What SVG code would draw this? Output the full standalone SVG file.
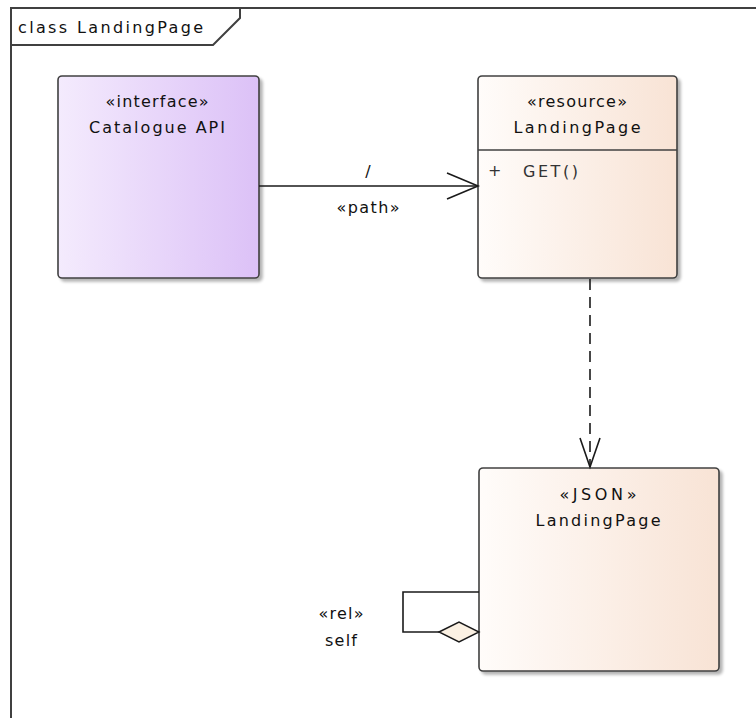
<svg xmlns="http://www.w3.org/2000/svg" width="756" height="718" viewBox="0 0 756 718">
<defs>
<linearGradient id="gPurple" x1="0" y1="0" x2="1" y2="0">
<stop offset="0" stop-color="#F4EBFD"/>
<stop offset="1" stop-color="#DCC1F7"/>
</linearGradient>
<linearGradient id="gPeach" x1="0" y1="0" x2="1" y2="0">
<stop offset="0" stop-color="#FFFCFA"/>
<stop offset="1" stop-color="#F8E3D5"/>
</linearGradient>
<filter id="sh" x="-10%" y="-10%" width="130%" height="130%">
<feGaussianBlur in="SourceAlpha" stdDeviation="1.5"/>
<feOffset dx="3" dy="3" result="b"/>
<feComponentTransfer><feFuncA type="linear" slope="0.3"/></feComponentTransfer>
<feMerge><feMergeNode/><feMergeNode in="SourceGraphic"/></feMerge>
</filter>
</defs>
<style>
text{font-family:"DejaVu Sans","Liberation Sans",sans-serif;font-size:16px;fill:#111}
.c{text-anchor:middle}
.box{stroke:#404040;stroke-width:1.6}
.ln{stroke:#1a1a1a;stroke-width:1.6;fill:none}
.frame{stroke:#404040;stroke-width:2;fill:none}
</style>
<rect width="756" height="718" fill="#ffffff"/>
<g id="frame">
<path class="frame" d="M11,760 V8 H800"/>
<path class="frame" d="M11,45 H213 L240,18 V8"/>
<text x="18" y="33" textLength="185" lengthAdjust="spacing">class LandingPage</text>
</g>
<g id="catalogue-api">
<rect class="box" x="58" y="76" width="201" height="202" rx="4" fill="url(#gPurple)" filter="url(#sh)"/>
<text class="c" x="157" y="107" textLength="103" lengthAdjust="spacing">«interface»</text>
<text class="c" x="157" y="133" textLength="136" lengthAdjust="spacing">Catalogue API</text>
</g>
<g id="resource-landingpage">
<rect class="box" x="478" y="76" width="199" height="202" rx="4" fill="url(#gPeach)" filter="url(#sh)"/>
<line class="box" x1="478" y1="150" x2="677" y2="150"/>
<text class="c" x="577" y="107" textLength="100" lengthAdjust="spacing">«resource»</text>
<text class="c" x="577" y="133" textLength="127" lengthAdjust="spacing">LandingPage</text>
<text x="488" y="176" style="fill:#333">+</text>
<text x="523" y="177" textLength="55" lengthAdjust="spacing" style="fill:#333">GET()</text>
</g>
<g id="json-landingpage">
<rect class="box" x="479" y="468" width="240" height="203" rx="4" fill="url(#gPeach)" filter="url(#sh)"/>
<text class="c" x="598" y="500" textLength="77" lengthAdjust="spacing">«JSON»</text>
<text class="c" x="598" y="526" textLength="125" lengthAdjust="spacing">LandingPage</text>
</g>
<g id="connectors">
<line class="ln" x1="259" y1="186" x2="478" y2="186"/>
<path class="ln" d="M447,173 L478,186 L447,199"/>
<text class="c" x="368" y="177">/</text>
<text class="c" x="368" y="213" textLength="63" lengthAdjust="spacing">«path»</text>
<line class="ln" x1="590" y1="279" x2="590" y2="467" stroke-dasharray="11,7"/>
<path class="ln" d="M580,438 L590,467 L600,438"/>
<path class="ln" d="M479,592 H403 V632 H439"/>
<path d="M439,632 L459,622 L479,632 L459,642 Z" fill="#FBF1E3" stroke="#1a1a1a" stroke-width="1.4"/>
<text class="c" x="341" y="619" textLength="45" lengthAdjust="spacing">«rel»</text>
<text class="c" x="341" y="646" textLength="32" lengthAdjust="spacing">self</text>
</g>
</svg>
